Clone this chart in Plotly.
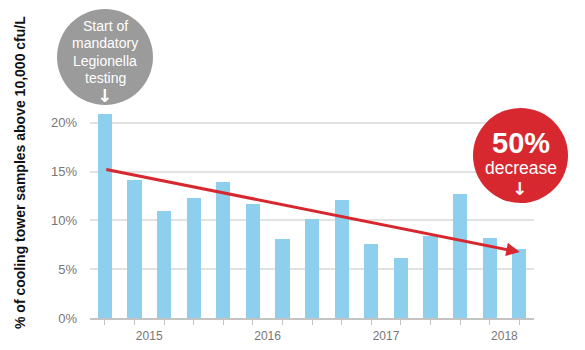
import plotly.graph_objects as go

# ---- data ----
quarters = list(range(15))
values = [20.9, 14.15, 10.98, 12.28, 13.98, 11.67, 8.08, 10.16, 12.08, 7.57, 6.17, 8.42, 12.72, 8.19, 7.09]
year_ticks = [1.5, 5.5, 9.5, 13.5]
year_labels = ["2015", "2016", "2017", "2018"]
y_ticks = [0, 5, 10, 15, 20, 25]
y_labels = ["0%", "5%", "10%", "15%", "20%", ""]
trend_start = (0, 15.25)
trend_end = (14.02, 6.75)

FONT = "Liberation Sans, Arial, Helvetica, sans-serif"
BAR = "#8DCFEC"
RED = "#D7282F"
GRAY_CIRCLE = "#9B9B9B"

fig = go.Figure()
fig.add_trace(go.Bar(x=quarters, y=values, width=0.48, marker=dict(color=BAR, line=dict(width=0)),
                     hoverinfo="skip"))

W, H = 585, 350
ml, mr, mt, mb = 90, 51, 74, 32
pw, ph = W - ml - mr, H - mt - mb

def px_x(px):
    return (px - ml) / pw

def px_y(py):
    return (H - mb - py) / ph

# trend arrow
fig.add_annotation(x=trend_end[0], y=trend_end[1], ax=trend_start[0], ay=trend_start[1],
                   xref="x", yref="y", axref="x", ayref="y", text="", showarrow=True,
                   arrowhead=2, arrowsize=0.9, arrowwidth=3, arrowcolor=RED)

# circles
shapes = [
    dict(type="circle", xref="paper", yref="paper", xsizemode="pixel", ysizemode="pixel",
         xanchor=px_x(105), yanchor=px_y(57), x0=-48, x1=48, y0=-48, y1=48,
         fillcolor=GRAY_CIRCLE, line=dict(width=0), layer="above"),
    dict(type="circle", xref="paper", yref="paper", xsizemode="pixel", ysizemode="pixel",
         xanchor=px_x(520.5), yanchor=px_y(155.5), x0=-47.5, x1=47.5, y0=-47.5, y1=47.5,
         fillcolor=RED, line=dict(width=0), layer="above"),
]
fig.update_layout(shapes=shapes)

def text_at(px, py, txt, size, bold=False, family=FONT):
    fig.add_annotation(x=px_x(px), y=px_y(py), xref="paper", yref="paper", text=("<b>%s</b>" % txt) if bold else txt,
                       showarrow=False, xanchor="center", yanchor="middle",
                       font=dict(family=family, size=size, color="white"))

gray_lines = ["Start of", "mandatory", "Legionella", "testing"]
for i, line in enumerate(gray_lines):
    text_at(105, 26 + 17.3 * i, line, 14)
text_at(104.5, 95, "↓", 18, bold=True, family="DejaVu Sans")

text_at(520.5, 142.5, "50%", 29, bold=True)
text_at(520.5, 167.5, "decrease", 17.5)
text_at(519.5, 188, "↓", 18, bold=True, family="DejaVu Sans")

# y title
fig.add_annotation(x=0, y=px_y(173), xref="paper", yref="paper", xshift=20 - ml,
                   text="<b>% of cooling tower samples above 10,000 cfu/L</b>", textangle=-90,
                   showarrow=False, xanchor="center", yanchor="middle",
                   font=dict(family=FONT, size=14, color="#111111"))

fig.update_layout(
    width=W, height=H, margin=dict(l=ml, r=mr, t=mt, b=mb, pad=0, autoexpand=False),
    plot_bgcolor="white", paper_bgcolor="white", showlegend=False,
    bargap=0,
    xaxis=dict(range=[-0.5, 14.5], tickmode="array", tickvals=year_ticks, ticktext=year_labels,
               ticks="", showgrid=False, zeroline=False, showline=True, linecolor="#C4C4C4",
               linewidth=1.5, tickfont=dict(family=FONT, size=12, color="#777777"),
               ticklabelstandoff=6, automargin=False,
               minor=dict(tickmode="array", tickvals=quarters, ticks="outside", ticklen=5,
                          tickcolor="#C4C4C4", tickwidth=1, showgrid=False)),
    yaxis=dict(range=[0, 25], tickmode="array", tickvals=y_ticks, ticktext=y_labels,
               showgrid=True, gridcolor="#E2E2E2", gridwidth=2, zeroline=False, showline=False,
               ticks="", tickfont=dict(family=FONT, size=13, color="#777777"),
               ticklabelstandoff=12, automargin=False),
)

fig.write_html("out.html")
